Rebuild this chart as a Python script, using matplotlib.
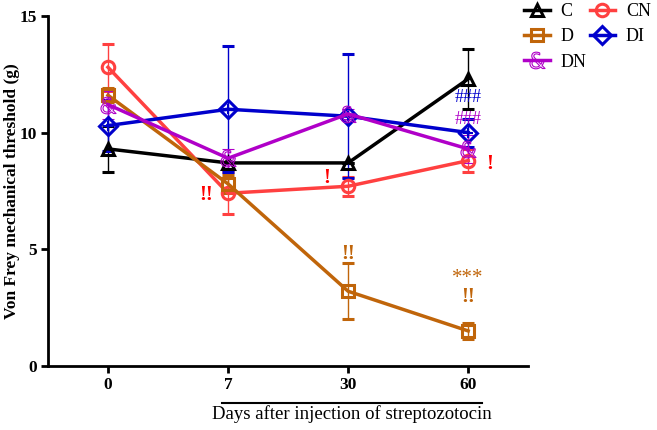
import numpy as np
import matplotlib.pyplot as plt
from matplotlib.lines import Line2D

plt.rcParams['font.family'] = ['Liberation Serif', 'DejaVu Serif']

# Datos
days = ['0', '7', '30', '60']
c_mean = [9.3, 8.7, 8.7, 12.3]
c_err = [1.0, 0.0, 0.0, 1.3]
cn_mean = [12.8, 7.4, 7.7, 8.8]
cn_err = [1.0, 0.9, 0.4, 0.5]
d_mean = [11.6, 7.8, 3.2, 1.5]
d_err = [0.3, 0.4, 1.2, 0.35]
di_mean = [10.3, 11.0, 10.7, 10.0]
di_err = [1.1, 2.7, 2.65, 0.6]
dn_mean = [11.2, 8.9, 10.8, 9.3]
dn_err = [0.6, 0.4, 0.2, 0.6]

fig = plt.figure(figsize=[6.57, 4.30], dpi=100)
ax = fig.add_axes([0.073, 0.149, 0.731, 0.814])
x = np.arange(len(days))

amp = '$&$'
series = [
    (c_mean, c_err, 'black', '^', 'C'),
    (cn_mean, cn_err, '#ff4040', 'o', 'CN'),
    (d_mean, d_err, '#c0650a', 's', 'D'),
    (di_mean, di_err, '#0000cc', 'D', 'DI'),
    (dn_mean, dn_err, '#b000c8', amp, 'DN'),
]
handles = {}
for mean, err, col, mk, lab in series:
    if mk == amp:
        ms, mew = 12, 0.8
    else:
        ms, mew = 9, 2.2
    ax.errorbar(x, mean, yerr=err, color=col, marker=mk, markersize=ms,
                markerfacecolor='none', markeredgewidth=mew, linewidth=2.5,
                elinewidth=1, capsize=4, capthick=1)
    handles[lab] = Line2D([], [], color=col, marker=mk, markersize=ms,
                          markerfacecolor='none', markeredgewidth=mew,
                          linewidth=2.5)
# cruz interior de los rombos
ax.plot(x, di_mean, '+', color='#0000cc', markersize=7, markeredgewidth=1.5)

# Anotaciones
ax.text(0.82, 7.1, '!!', color='red', fontsize=15, fontweight='bold', ha='center')
ax.text(1.82, 7.85, '!', color='red', fontsize=15, fontweight='bold', ha='center')
ax.text(3.18, 8.45, '!', color='red', fontsize=15, fontweight='bold', ha='center')
ax.text(2, 4.6, '!!', color='#c0650a', fontsize=15, fontweight='bold', ha='center')
ax.text(3, 2.75, '!!', color='#c0650a', fontsize=15, fontweight='bold', ha='center')
ax.text(3, 3.55, '***', color='#c0650a', fontsize=15, ha='center')
ax.text(3, 11.3, '###', color='#0000cc', fontsize=13, ha='center')
ax.text(3, 10.35, '###', color='#b000c8', fontsize=13, ha='center')

ax.set_xlim(-0.5, 3.5)
ax.set_ylim(0, 15)
ax.set_xticks(x)
ax.set_xticklabels(days)
ax.set_yticks([0, 5, 10, 15])
ax.set_ylabel('Von Frey mechanical threshold (g)', fontsize=12.5,
              fontweight='bold')
ax.yaxis.set_label_coords(-0.058, 0.5)
for lab in ax.get_xticklabels() + ax.get_yticklabels():
    lab.set_fontweight('bold')
    lab.set_fontsize(12.5)
ax.tick_params(width=2, length=5, pad=3)
for s in ['top', 'right']:
    ax.spines[s].set_visible(False)
for s in ['left', 'bottom']:
    ax.spines[s].set_linewidth(2)

# Título del eje x con línea encima
fig.add_artist(Line2D([222 / 657, 482 / 657], [1 - 403 / 430] * 2,
                      color='black', linewidth=1.5))
fig.text(352 / 657, 1 - 414 / 430, 'Days after injection of streptozotocin',
         ha='center', va='center', fontsize=13.5)

order = ['C', 'D', 'DN', 'CN', 'DI']
fig.legend([handles[k] for k in order], order, loc='upper left',
           bbox_to_anchor=(508 / 657, 1.03), ncol=2, frameon=False,
           fontsize=13, handlelength=1.4, handletextpad=0.6,
           columnspacing=0.2, labelspacing=0.45)

fig.savefig('out.png', dpi=100)
